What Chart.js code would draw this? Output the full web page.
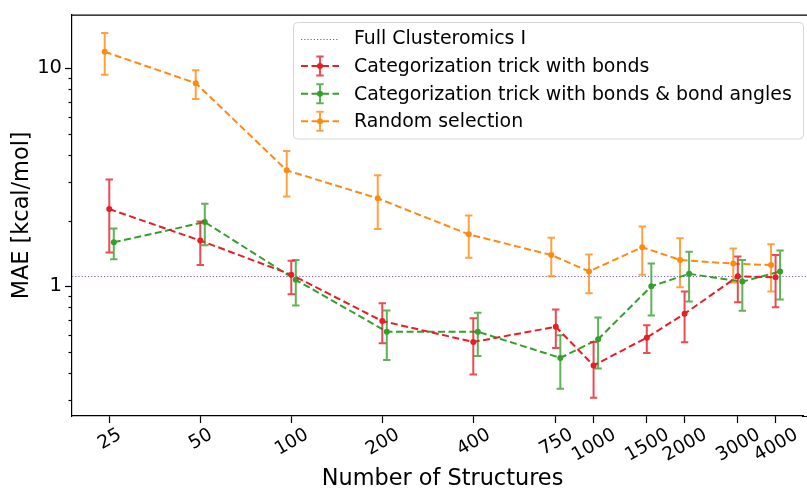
<!DOCTYPE html>
<html>
<head>
<meta charset="utf-8">
<script src="https://cdn.jsdelivr.net/npm/chart.js@4.4.1/dist/chart.umd.min.js"></script>
<style>
    html, body { margin: 0; padding: 0; background: #fff; }
    #chart { display: block; }
</style>
</head>
<body>
<canvas id="chart" width="807" height="489"></canvas>
<script>
// --- DADOS ---
const structures = [25, 50, 100, 200, 400, 750, 1000, 1500, 2000, 3000, 4000];
const tickLabels = ['25', '50', '100', '200', '400', '750', '1000', '1500', '2000', '3000', '4000'];

const bondsMae  = [2.26, 1.62, 1.13, 0.692, 0.555, 0.652, 0.433, 0.581, 0.748, 1.11, 1.10];
const bondsHigh = [3.09, 1.98, 1.31, 0.836, 0.714, 0.783, 0.555, 0.662, 0.946, 1.37, 1.39];
const bondsLow  = [1.43, 1.25, 0.92, 0.548, 0.394, 0.521, 0.308, 0.494, 0.553, 0.845, 0.80];

const anglesMae  = [1.59, 1.97, 1.07, 0.619, 0.619, 0.469, 0.571, 1.00, 1.14, 1.05, 1.17];
const anglesHigh = [1.84, 2.39, 1.32, 0.774, 0.756, 0.596, 0.719, 1.27, 1.44, 1.32, 1.46];
const anglesLow  = [1.33, 1.54, 0.816, 0.459, 0.479, 0.339, 0.42, 0.735, 0.851, 0.772, 0.869];

const randomMae  = [11.9, 8.54, 3.40, 2.53, 1.73, 1.39, 1.17, 1.51, 1.32, 1.27, 1.25];
const randomHigh = [14.5, 9.79, 4.17, 3.23, 2.11, 1.67, 1.40, 1.88, 1.66, 1.49, 1.56];
const randomLow  = [9.33, 7.22, 2.58, 1.83, 1.35, 1.11, 0.929, 1.13, 0.99, 1.04, 0.946];

const fullClusteromics = 1.12;

const yMajorTicks = [1, 10];
const yMinorTicks = [0.3, 0.4, 0.5, 0.6, 0.7, 0.8, 0.9, 2, 3, 4, 5, 6, 7, 8, 9];

// --- ESTILO ---
const FONT = "'DejaVu Sans', sans-serif";
const RED = '#e41f26';
const GREEN = '#34a02c';
const ORANGE = '#ff8a12';
const PURPLE = '#7e57c2';

function makeSeries(label, mae, low, high, color, shift) {
    return {
        label: label,
        data: structures.map((s, i) => ({ x: s * shift, y: mae[i] })),
        errLow: low,
        errHigh: high,
        borderColor: color,
        backgroundColor: color,
        borderWidth: 2,
        borderDash: [7, 3.5],
        pointRadius: 3,
        pointBorderWidth: 0,
        pointBackgroundColor: color,
        tension: 0,
        fill: false,
    };
}

const datasets = [
    makeSeries('Categorization trick with bonds', bondsMae, bondsLow, bondsHigh, RED, 1),
    makeSeries('Categorization trick with bonds & bond angles', anglesMae, anglesLow, anglesHigh, GREEN, 1.035),
    makeSeries('Random selection', randomMae, randomLow, randomHigh, ORANGE, 0.966),
];

function withAlpha(hex, a) {
    const n = parseInt(hex.slice(1), 16);
    return `rgba(${(n >> 16) & 255}, ${(n >> 8) & 255}, ${n & 255}, ${a})`;
}

// barras de erro desenhadas antes de cada linha
const errorBarPlugin = {
    id: 'errorBars',
    beforeDatasetDraw(chart, args) {
        const ds = chart.data.datasets[args.index];
        if (!ds.errLow) return;
        const y = chart.scales.y;
        const ctx = chart.ctx;
        ctx.save();
        ctx.strokeStyle = withAlpha(ds.borderColor, 0.8);
        ctx.lineWidth = 2;
        ctx.setLineDash([]);
        args.meta.data.forEach((pt, i) => {
            const yl = y.getPixelForValue(ds.errLow[i]);
            const yh = y.getPixelForValue(ds.errHigh[i]);
            ctx.beginPath();
            ctx.moveTo(pt.x, yl); ctx.lineTo(pt.x, yh);
            ctx.moveTo(pt.x - 3.7, yl); ctx.lineTo(pt.x + 3.7, yl);
            ctx.moveTo(pt.x - 3.7, yh); ctx.lineTo(pt.x + 3.7, yh);
            ctx.stroke();
        });
        ctx.restore();
    }
};

// linha de referência, moldura, ticks menores, rótulos do eixo x e legenda
const decorPlugin = {
    id: 'decor',
    beforeDatasetsDraw(chart) {
        const { ctx, chartArea: a, scales: { y } } = chart;
        const yy = Math.round(y.getPixelForValue(fullClusteromics)) + 0.5;
        ctx.save();
        ctx.strokeStyle = PURPLE;
        ctx.lineWidth = 1;
        ctx.setLineDash([1.2, 2]);
        ctx.beginPath();
        ctx.moveTo(a.left, yy); ctx.lineTo(807, yy);
        ctx.stroke();
        ctx.restore();
    },
    afterDraw(chart) {
        const { ctx, chartArea: a, scales: { x, y } } = chart;
        ctx.save();
        // moldura superior e prolongamento do eixo x até à borda
        ctx.strokeStyle = '#000';
        ctx.lineWidth = 1.2;
        ctx.beginPath();
        ctx.moveTo(a.left, a.top + 0.5); ctx.lineTo(807, a.top + 0.5);
        ctx.moveTo(a.right - 1, a.bottom + 0.5); ctx.lineTo(807, a.bottom + 0.5);
        ctx.stroke();
        // ticks menores do eixo y
        yMinorTicks.forEach(v => {
            const py = Math.round(y.getPixelForValue(v)) + 0.5;
            ctx.beginPath();
            ctx.moveTo(a.left - 3.5, py); ctx.lineTo(a.left, py);
            ctx.stroke();
        });
        // rótulos do eixo x, rodados 30° e centrados no tick
        ctx.fillStyle = '#000';
        ctx.font = `18.5px ${FONT}`;
        ctx.textAlign = 'center';
        ctx.textBaseline = 'middle';
        const ang = Math.PI / 6;
        structures.forEach((s, i) => {
            const px = x.getPixelForValue(s);
            const w = ctx.measureText(tickLabels[i]).width;
            const h = 18.5 * 0.76;
            const H = w * Math.sin(ang) + h * Math.cos(ang);
            const cy = a.bottom + 7 + 3.5 + H / 2;
            ctx.save();
            ctx.translate(px, cy);
            ctx.rotate(-ang);
            ctx.fillText(tickLabels[i], 0, 1);
            ctx.restore();
        });
        // título do eixo x
        ctx.font = `22.4px ${FONT}`;
        ctx.fillText('Number of Structures', 442.5, 479);
        // legenda
        const bx = 293.5, by = 22.5, bw = 510, bh = 116.5;
        ctx.beginPath();
        ctx.roundRect(bx, by, bw, bh, 4);
        ctx.fillStyle = 'rgba(255,255,255,0.85)';
        ctx.fill();
        ctx.strokeStyle = '#d6d6d6';
        ctx.lineWidth = 1;
        ctx.stroke();

        const rows = [{ label: 'Full Clusteromics I', color: PURPLE, dotted: true }]
            .concat(chart.data.datasets.map(ds => ({ label: ds.label, color: ds.borderColor })));
        ctx.font = `18.9px ${FONT}`;
        ctx.textAlign = 'left';
        rows.forEach((r, i) => {
            const cy = 38.5 + i * 27.6;
            const x0 = 301, x1 = 339, xc = 320;
            ctx.save();
            ctx.strokeStyle = r.color;
            if (r.dotted) {
                ctx.lineWidth = 1;
                ctx.setLineDash([1.2, 2]);
                ctx.beginPath();
                ctx.moveTo(x0, Math.round(cy) + 0.5); ctx.lineTo(x1, Math.round(cy) + 0.5);
                ctx.stroke();
            } else {
                ctx.strokeStyle = withAlpha(r.color, 0.8);
                ctx.lineWidth = 2;
                ctx.beginPath();
                ctx.moveTo(xc, cy - 9.5); ctx.lineTo(xc, cy + 9.5);
                ctx.moveTo(xc - 3.7, cy - 9.5); ctx.lineTo(xc + 3.7, cy - 9.5);
                ctx.moveTo(xc - 3.7, cy + 9.5); ctx.lineTo(xc + 3.7, cy + 9.5);
                ctx.stroke();
                ctx.strokeStyle = r.color;
                ctx.setLineDash([7, 3.5]);
                ctx.beginPath();
                ctx.moveTo(x0, cy); ctx.lineTo(x1, cy);
                ctx.stroke();
                ctx.fillStyle = r.color;
                ctx.beginPath();
                ctx.arc(xc, cy, 3, 0, Math.PI * 2);
                ctx.fill();
            }
            ctx.restore();
            ctx.fillStyle = '#000';
            ctx.fillText(r.label, 354, cy + 1);
        });
        ctx.restore();
    }
};

new Chart(document.getElementById('chart'), {
    type: 'line',
    data: { datasets: datasets },
    plugins: [errorBarPlugin, decorPlugin],
    options: {
        responsive: false,
        animation: false,
        devicePixelRatio: 1,
        layout: { padding: { top: 11.3, right: -5, left: 0, bottom: 0 } },
        plugins: {
            legend: { display: false },
            tooltip: { enabled: false },
        },
        scales: {
            x: {
                type: 'logarithmic',
                min: 18.82,
                max: 4929,
                afterBuildTicks: scale => { scale.ticks = structures.map(v => ({ value: v })); },
                afterFit: scale => { scale.height = 73; },
                ticks: { display: false, autoSkip: false },
                grid: {
                    drawOnChartArea: false,
                    tickLength: 7,
                    tickColor: '#000',
                    tickWidth: 1.2,
                },
                border: { display: true, color: '#000', width: 1.2 },
            },
            y: {
                type: 'logarithmic',
                min: 0.254,
                max: 17.6,
                afterBuildTicks: scale => {
                    scale.ticks = yMajorTicks.concat(yMinorTicks).sort((p, q) => p - q).map(v => ({ value: v }));
                },
                afterFit: scale => { scale.width = 72; },
                ticks: {
                    color: '#000',
                    padding: 3,
                    autoSkip: false,
                    font: { family: FONT, size: 19.5 },
                    callback: v => (yMajorTicks.includes(v) ? String(v) : ''),
                },
                grid: {
                    drawOnChartArea: false,
                    tickLength: 7,
                    tickWidth: 1.2,
                    tickColor: ctx => (ctx.tick && yMajorTicks.includes(ctx.tick.value) ? '#000' : 'rgba(0,0,0,0)'),
                },
                border: { display: true, color: '#000', width: 1.2 },
                title: {
                    display: true,
                    text: 'MAE [kcal/mol]',
                    color: '#000',
                    font: { family: FONT, size: 22.4, lineHeight: 1.2 },
                    padding: { top: 8.5, bottom: 0 },
                },
            },
        },
    },
});
</script>
</body>
</html>
